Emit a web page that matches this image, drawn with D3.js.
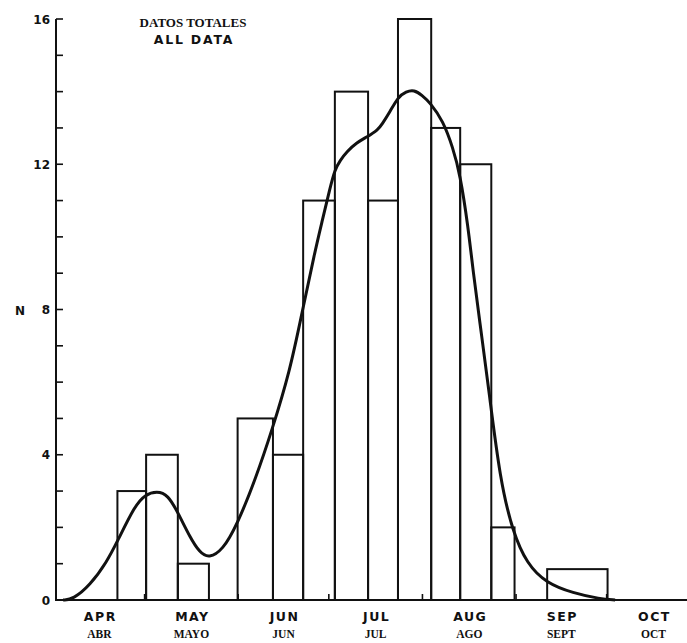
<!DOCTYPE html>
<html>
<head>
<meta charset="utf-8">
<script src="https://cdn.jsdelivr.net/npm/d3@7/dist/d3.min.js"></script>
<style>
  html, body { margin: 0; padding: 0; background: #fff; }
  svg { display: block; }
</style>
</head>
<body>
<svg id="chart" width="687" height="643"></svg>
<script>
// ---- DATA (x in days since 1 April) ----
const binEdges = [21, 30.5, 41, 51.3, 60.8, 72.5, 82.5, 93, 104, 113.9, 124.9, 134.5, 144.8, 152.5, 163.3, 183.3];
const binCounts = [3, 4, 1, 0, 5, 4, 11, 14, 11, 16, 13, 12, 2, 0, 0.85];

// smoothed curve: [day, N]
const curveDays   = [3, 6.3, 11.9, 17.5, 20.9, 26.8, 30.1, 34.1, 37.7, 41.1, 45.0, 48.3, 51.3, 55.9, 60.6, 66.6, 72.2, 78.1, 82.1, 86.4, 88.7, 91.4, 93.0, 94.7, 97.0, 100.3, 103.6, 107.3, 108.6, 111.3, 113.9, 116.6, 119.2, 121.9, 124.5, 128.8, 132.1, 134.4, 137.1, 138.7, 141.4, 144.0, 147.7, 152.0, 156.6, 162.9, 171.9, 180.8, 185.8];
const curveValues = [0, 0.02, 0.4, 1.05, 1.6, 2.6, 2.9, 3.0, 2.9, 2.4, 1.73, 1.3, 1.15, 1.38, 2.07, 3.3, 4.68, 6.3, 7.9, 9.6, 10.4, 11.35, 11.85, 12.1, 12.35, 12.6, 12.75, 12.95, 13.1, 13.45, 13.85, 14.0, 14.05, 13.9, 13.7, 13.2, 12.45, 11.75, 10.3, 9.1, 7.4, 5.78, 3.3, 1.85, 1.0, 0.47, 0.19, 0.03, 0];

const monthStarts = [0, 30, 61, 91, 122, 153, 183];
const monthMids   = [15, 45.5, 76, 106.5, 137.5, 168, 198.5];
const monthLabelsEn = ["APR", "MAY", "JUN", "JUL", "AUG", "SEP", "OCT"];
const monthLabelsEs = ["ABR", "MAYO", "JUN", "JUL", "AGO", "SEPT", "OCT"];

const yTicks = d3.range(0, 17, 1);
const yLabelTicks = [0, 4, 8, 12, 16];
const titleLines = ["DATOS TOTALES", "ALL DATA"];
const yAxisLabel = "N";

// ---- SCALES ----
const svg = d3.select("#chart");
const x = d3.scaleLinear().domain([0, 210]).range([54, 688.2]);
const y = d3.scaleLinear().domain([0, 16]).range([600, 19]);

const ink = "#111";
const sansBold = "'DejaVu Sans', 'Liberation Sans', Arial, sans-serif";
const serif = "'Liberation Serif', 'DejaVu Serif', 'Times New Roman', serif";

// baseline
svg.append("line")
  .attr("x1", 55).attr("x2", 687)
  .attr("y1", y(0)).attr("y2", y(0))
  .attr("stroke", ink).attr("stroke-width", 2.2);

// month ticks on x axis (upward)
svg.selectAll(".mtick").data(monthStarts.slice(1)).join("line")
  .attr("x1", d => x(d)).attr("x2", d => x(d))
  .attr("y1", y(0)).attr("y2", y(0) - 6)
  .attr("stroke", ink).attr("stroke-width", 1.6);

// y axis line
svg.append("line")
  .attr("x1", 56).attr("x2", 56)
  .attr("y1", y(16)).attr("y2", y(0))
  .attr("stroke", ink).attr("stroke-width", 2);

// y ticks (pointing right)
svg.selectAll(".ytick").data(yTicks).join("line")
  .attr("x1", 56).attr("x2", 63)
  .attr("y1", d => y(d)).attr("y2", d => y(d))
  .attr("stroke", ink).attr("stroke-width", 1.6);

// y tick labels
svg.selectAll(".ylab").data(yLabelTicks).join("text")
  .attr("x", 50).attr("y", d => y(d) + 4.5)
  .attr("text-anchor", "end")
  .attr("font-family", sansBold)
  .attr("font-weight", "bold")
  .attr("font-size", 12)
  .attr("fill", ink)
  .text(d => d);

// axis label N
svg.append("text")
  .attr("x", 20).attr("y", y(8) + 5)
  .attr("text-anchor", "middle")
  .attr("font-family", sansBold)
  .attr("font-weight", "bold")
  .attr("font-size", 12)
  .attr("fill", ink)
  .text(yAxisLabel);

// histogram outline
const bins = binCounts.map((c, i) => ({ x0: binEdges[i], x1: binEdges[i + 1], c }));
svg.selectAll(".bar").data(bins.filter(b => b.c > 0)).join("rect")
  .attr("x", d => x(d.x0))
  .attr("y", d => y(d.c))
  .attr("width", d => x(d.x1) - x(d.x0))
  .attr("height", d => y(0) - y(d.c))
  .attr("fill", "none")
  .attr("stroke", ink)
  .attr("stroke-width", 2);

// smooth curve
const line = d3.line()
  .x(d => x(d[0])).y(d => y(d[1]))
  .curve(d3.curveBasis);
svg.append("path")
  .datum(curveDays.map((d, i) => [d, curveValues[i]]))
  .attr("d", line)
  .attr("fill", "none")
  .attr("stroke", ink)
  .attr("stroke-width", 3)
  .attr("stroke-linejoin", "round");

// month labels
svg.selectAll(".men").data(monthMids).join("text")
  .attr("x", d => x(d) + 1).attr("y", 621)
  .attr("text-anchor", "middle")
  .attr("font-family", sansBold)
  .attr("font-weight", "bold")
  .attr("font-size", 12.5)
  .attr("letter-spacing", 1.5)
  .attr("fill", ink)
  .text((d, i) => monthLabelsEn[i]);

svg.selectAll(".mes").data(monthMids).join("text")
  .attr("x", d => x(d)).attr("y", 638)
  .attr("text-anchor", "middle")
  .attr("font-family", serif)
  .attr("font-weight", "bold")
  .attr("font-size", 11.5)
  .attr("fill", ink)
  .text((d, i) => monthLabelsEs[i]);

// title
svg.append("text")
  .attr("x", 193).attr("y", 27)
  .attr("text-anchor", "middle")
  .attr("font-family", serif)
  .attr("font-weight", "bold")
  .attr("font-size", 13)
  .attr("fill", ink)
  .text(titleLines[0]);
svg.append("text")
  .attr("x", 194).attr("y", 44)
  .attr("text-anchor", "middle")
  .attr("font-family", sansBold)
  .attr("font-weight", "bold")
  .attr("font-size", 12.5)
  .attr("letter-spacing", 1.8)
  .attr("fill", ink)
  .text(titleLines[1]);
</script>
</body>
</html>
